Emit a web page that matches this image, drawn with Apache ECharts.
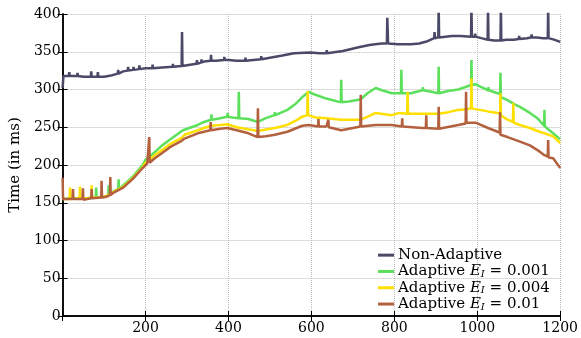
<!DOCTYPE html>
<html><head><meta charset="utf-8">
<script src="https://cdn.jsdelivr.net/npm/echarts@6/dist/echarts.min.js"></script>
<style>html,body{margin:0;padding:0;background:#fff}#c{width:581px;height:338px}</style>
</head><body><div id="c"></div>
<script>
var seriesNames = ['Non-Adaptive', 'Adaptive E_I = 0.001', 'Adaptive E_I = 0.004', 'Adaptive E_I = 0.01'];
var xTicks = [0, 200, 400, 600, 800, 1000, 1200];
var yTicks = [0, 50, 100, 150, 200, 250, 300, 350, 400];

var nonAdaptive = [[0,302],[2,318],[15,318],[16,323],[17,318],[35,318],[36,322],[37,318],[50,317],[68,317],[69,324],[70,317],[84,317],[85,323],[86,317],[100,317],[120,319],[133,321],[134,326],[135,321],[146,324],[157,325],[158,330],[159,325],[170,326],[171,330],[172,326],[184,327],[185,332],[186,327],[200,328],[216,328],[217,333],[218,328],[240,329],[265,330],[266,334],[267,330],[287,331],[288,376],[289,331],[300,332],[323,334],[324,339],[325,334],[334,336],[335,340],[336,336],[341,337],[357,338],[358,346],[359,338],[370,338],[389,339],[390,343],[391,339],[400,339],[420,338],[440,338],[441,342],[442,338],[460,339],[478,340],[479,344],[480,340],[500,342],[530,345],[558,348],[597,349],[620,348],[636,348],[637,352],[638,348],[676,351],[714,356],[740,359],[754,360],[770,361],[782,361],[783,395],[785,361],[809,360],[840,360],[860,361],[880,364],[896,368],[897,376],[898,368],[906,369],[907,410],[908,369],[939,371],[960,371],[985,370],[986,410],[987,370],[994,370],[995,374],[996,370],[1010,368],[1025,366],[1026,410],[1027,366],[1040,365],[1056,365],[1057,410],[1058,365],[1070,366],[1088,366],[1100,367],[1101,371],[1102,367],[1120,368],[1130,369],[1131,373],[1132,369],[1143,369],[1160,368],[1170,368],[1171,410],[1172,368],[1185,366],[1200,363]];

var adaptive001 = [[0,155],[20,156],[40,156],[60,156],[80,157],[81,170],[82,157],[100,158],[110,160],[111,173],[112,160],[122,165],[134,168],[135,181],[136,168],[146,173],[170,185],[193,200],[200,207],[220,216],[240,226],[260,234],[290,246],[326,253],[341,257],[358,260],[359,267],[360,260],[380,262],[397,264],[398,269],[399,264],[410,263],[424,262],[425,297],[426,262],[448,261],[471,257],[490,262],[511,266],[512,270],[513,266],[542,273],[560,280],[578,290],[594,297],[605,294],[620,291],[636,288],[650,286],[671,283],[672,313],[673,283],[690,284],[711,286],[719,287],[735,295],[755,302],[770,299],[794,295],[816,295],[817,326],[818,295],[840,295],[868,299],[869,303],[870,299],[890,297],[906,295],[907,330],[908,295],[930,298],[954,300],[970,303],[985,306],[986,339],[987,306],[996,307],[1010,303],[1026,299],[1027,303],[1028,299],[1049,295],[1055,294],[1056,322],[1057,290],[1073,286],[1088,281],[1103,277],[1127,269],[1145,262],[1161,252],[1162,273],[1163,251],[1183,242],[1200,234]];

var adaptive004 = [[0,155],[17,155],[18,170],[19,155],[41,156],[42,171],[43,156],[60,156],[69,157],[70,173],[71,157],[90,157],[106,159],[122,164],[146,171],[170,183],[193,197],[200,203],[220,212],[240,220],[260,228],[287,236],[294,240],[326,246],[330,248],[341,249],[360,252],[380,253],[397,254],[420,250],[450,247],[471,245],[490,247],[512,249],[542,253],[560,258],[578,264],[590,266],[591,298],[592,266],[610,263],[636,262],[672,260],[700,260],[719,260],[740,265],[755,269],[794,266],[813,269],[831,268],[832,297],[833,268],[868,268],[907,268],[930,270],[954,273],[975,274],[985,275],[986,315],[987,275],[996,274],[1026,271],[1049,269],[1055,268],[1056,295],[1057,266],[1073,260],[1086,257],[1087,282],[1088,256],[1103,253],[1127,249],[1150,244],[1162,242],[1183,238],[1200,229]];

var adaptive01 = [[0,183],[1,155],[24,155],[25,168],[26,155],[48,155],[49,169],[50,154],[69,156],[70,168],[71,156],[93,157],[94,179],[95,157],[106,158],[114,160],[115,184],[116,160],[122,163],[146,170],[170,182],[193,196],[204,202],[208,203],[209,237],[210,203],[220,208],[240,216],[260,224],[287,232],[294,235],[326,242],[341,244],[356,246],[357,257],[358,246],[380,248],[397,249],[420,246],[448,242],[470,237],[471,275],[472,237],[490,238],[512,240],[542,244],[560,248],[578,252],[594,253],[616,251],[617,261],[618,251],[636,251],[640,250],[641,260],[642,250],[672,246],[700,249],[718,251],[719,293],[720,251],[755,253],[794,253],[818,251],[819,262],[820,251],[868,249],[876,249],[877,266],[878,249],[906,248],[907,277],[908,248],[954,253],[972,255],[973,297],[974,256],[996,256],[1026,249],[1049,244],[1054,243],[1055,270],[1056,240],[1073,237],[1103,231],[1127,226],[1150,218],[1162,213],[1170,211],[1171,233],[1172,210],[1183,209],[1200,196]];

var colors = ['#4a4a68', '#5ce05c', '#ffdf00', '#b3603f'];
var FONT = 'DejaVu Serif';
var chart = echarts.init(document.getElementById('c'), null, {renderer: 'canvas'});
var dataList = [nonAdaptive, adaptive001, adaptive004, adaptive01];
var series = seriesNames.map(function (n, i) {
  return {name: n, type: 'line', data: dataList[i], showSymbol: false, symbol: 'none',
    lineStyle: {color: colors[i], width: 2.5}, itemStyle: {color: colors[i]}, clip: true, animation: false};
});
var axisLineStyle = {show: true, lineStyle: {color: '#000', width: 1.5}};
chart.setOption({
  animation: false,
  backgroundColor: '#fff',
  grid: {left: 55, right: 18, top: 14, bottom: 22, containLabel: false},
  xAxis: [{
    type: 'value', min: xTicks[0], max: xTicks[xTicks.length - 1], interval: 200,
    axisLine: axisLineStyle,
    axisTick: {show: true, inside: true, length: 5, lineStyle: {color: '#000'}},
    axisLabel: {color: '#000', fontFamily: FONT, fontSize: 14, margin: 5,
      formatter: function (v) { return v === 0 ? '' : String(v); }},
    splitLine: {show: true, lineStyle: {color: '#bbb', type: 'dotted', width: 1}}
  }, {
    type: 'value', position: 'top', min: xTicks[0], max: xTicks[xTicks.length - 1], interval: 200,
    axisLine: axisLineStyle,
    axisTick: {show: true, inside: true, length: 5, lineStyle: {color: '#000'}},
    axisLabel: {show: false}, splitLine: {show: false}
  }],
  yAxis: [{
    type: 'value', min: yTicks[0], max: yTicks[yTicks.length - 1], interval: 50,
    name: 'Time (in ms)', nameLocation: 'middle', nameGap: 33, nameRotate: 90,
    nameTextStyle: {color: '#000', fontFamily: FONT, fontSize: 15},
    axisLine: axisLineStyle,
    axisTick: {show: true, inside: true, length: 5, lineStyle: {color: '#000'}},
    axisLabel: {color: '#000', fontFamily: FONT, fontSize: 14, margin: 2},
    splitLine: {show: true, lineStyle: {color: '#bbb', type: 'dotted', width: 1}}
  }, {
    type: 'value', position: 'right', min: yTicks[0], max: yTicks[yTicks.length - 1], interval: 50,
    axisLine: axisLineStyle,
    axisTick: {show: true, inside: true, length: 5, lineStyle: {color: '#000'}},
    axisLabel: {show: false}, splitLine: {show: false}
  }],
  legend: {
    orient: 'vertical', left: 378, top: 247, itemGap: 0, padding: 0,
    icon: 'rect', itemWidth: 16, itemHeight: 3,
    data: seriesNames,
    formatter: function (n) {
      if (n.indexOf('E_I') < 0) return n;
      var parts = n.split('E_I');
      return parts[0] + '{i|E}{s|I}' + parts[1];
    },
    textStyle: {color: '#000', fontFamily: FONT, fontSize: 15, lineHeight: 16.3, padding: [0, 0, 0, -1],
      rich: {
        i: {fontFamily: FONT, fontSize: 15, fontStyle: 'italic', lineHeight: 16.3},
        s: {fontFamily: FONT, fontSize: 10, fontStyle: 'italic', lineHeight: 16.3, padding: [6, 0, 0, 0]}
      }}
  },
  series: series
});
</script></body></html>
